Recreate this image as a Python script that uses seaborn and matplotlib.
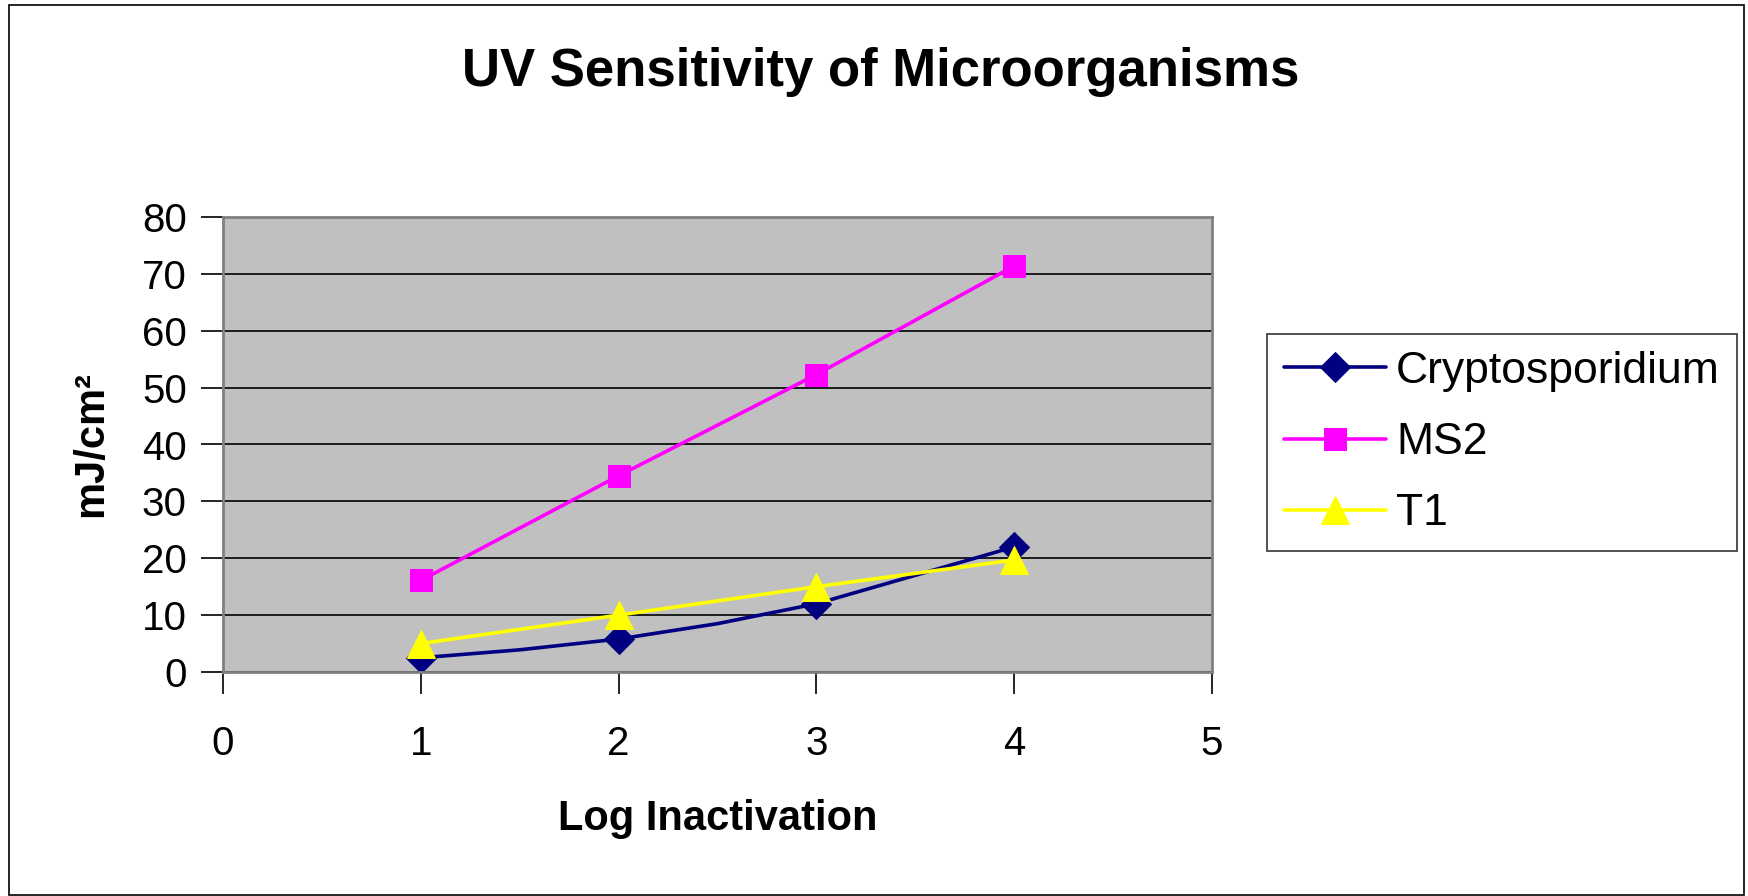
import matplotlib
matplotlib.use('Agg')
import matplotlib.pyplot as plt
import seaborn as sns
from matplotlib.patches import Rectangle

# data
crypto_x = [1, 1.5, 2, 2.5, 3, 4]
crypto_y = [2.5, 3.9, 5.8, 8.5, 12, 22]
ms2_x = [1, 2, 3, 4]
ms2_y = [16.1, 34.5, 52.3, 71.4]
t1_x = [1, 2, 3, 4]
t1_y = [5.0, 10.0, 15.0, 19.7]

sns.set_theme(style='white')
plt.rcParams['font.family'] = ['Liberation Sans', 'DejaVu Sans']
plt.rcParams['text.color'] = 'black'
plt.rcParams['axes.labelcolor'] = 'black'

fig = plt.figure(figsize=(17.48, 8.96), dpi=100)
W, H = 1748, 896
ax = fig.add_axes([223 / W, 1 - 672 / H, (1212 - 223) / W, (672 - 217) / H])
ax.set_facecolor('#C0C0C0')

sns.lineplot(x=crypto_x, y=crypto_y, ax=ax, color='#000080', lw=2.6,
             marker='D', markersize=15, markevery=[0, 2, 4, 5],
             markeredgecolor='#000080', label='Cryptosporidium')
sns.lineplot(x=ms2_x, y=ms2_y, ax=ax, color='#FF00FF', lw=2.6,
             marker='s', markersize=16, markeredgecolor='#FF00FF', label='MS2')
sns.lineplot(x=t1_x, y=t1_y, ax=ax, color='#FFFF00', lw=2.6,
             marker='^', markersize=20, markeredgecolor='#FFFF00', label='T1')

ax.set_xlim(0, 5)
ax.set_ylim(0, 80)
ax.set_xticks(range(0, 6))
ax.set_yticks(range(0, 90, 10))
ax.yaxis.grid(True, color='black', lw=1.2)
ax.set_axisbelow(True)
for side in ['top', 'right', 'left', 'bottom']:
    ax.spines[side].set_color('#808080')
    ax.spines[side].set_linewidth(2)
ax.tick_params(axis='both', which='both', direction='out', length=16, width=1.2,
               colors='black', labelsize=29, bottom=True, left=True)
ax.tick_params(axis='x', pad=22)
ax.tick_params(axis='y', pad=10)

ax.set_xlabel('Log Inactivation', fontsize=30, fontweight='bold', labelpad=26)
ax.set_ylabel('mJ/cm²', fontsize=30, fontweight='bold', labelpad=22)
fig.text(881 / W, 1 - 72 / H, 'UV Sensitivity of Microorganisms', fontsize=38,
         fontweight='bold', ha='center', va='center', color='black')

leg = ax.legend(loc='upper left', bbox_to_anchor=(1267 / W, 1 - 334 / H),
                bbox_transform=fig.transFigure, borderaxespad=0, fontsize=32,
                frameon=True, fancybox=False, handlelength=2.3, borderpad=0.38,
                labelspacing=0.68, handletextpad=0.22)
leg.get_frame().set_edgecolor('black')
leg.get_frame().set_linewidth(1.2)

fig.patches.append(Rectangle((9 / W, 1 / H), (1744 - 9) / W, (891 - 1) / H,
                             transform=fig.transFigure, fill=False,
                             edgecolor='black', lw=1.2))

fig.savefig('out.png', dpi=100, facecolor='white')
